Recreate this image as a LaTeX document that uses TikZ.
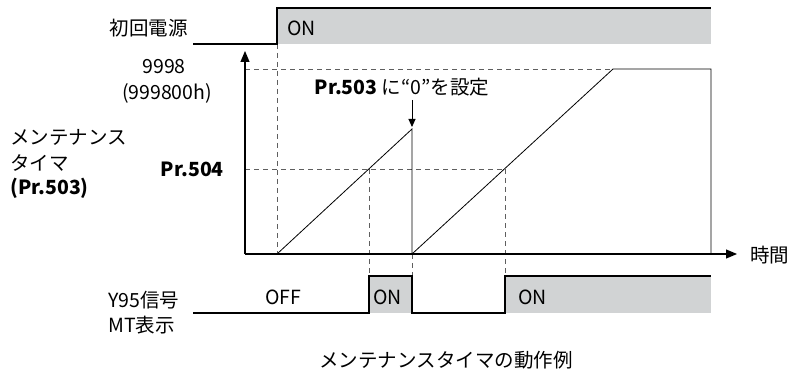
\documentclass[tikz,border=0pt]{standalone}
\usepackage{fontspec}
\setmainfont{Noto Sans CJK JP}
\usetikzlibrary{arrows.meta}
\definecolor{onfill}{RGB}{209,211,212}
\definecolor{dashgray}{RGB}{95,95,95}
\begin{document}
\begin{tikzpicture}[x=1pt,y=-1pt,
  sig/.style={line width=1.1pt, black},
  guide/.style={line width=0.9pt, dashgray, dash pattern=on 5pt off 4pt},
  ramp/.style={line width=0.8pt, black},
  axisarrow/.style={line width=1.1pt, -{Triangle[length=11pt,width=9pt]}},
  lbl/.style={font=\fontsize{19.5}{23}\selectfont, inner sep=0pt},
  bld/.style={font=\fontsize{19.5}{23}\selectfont\bfseries, inner sep=0pt}]
\useasboundingbox (0,0) rectangle (792,374);
% coordinates
\coordinate (O) at (245,254);
\coordinate (ytip) at (245,51);
\coordinate (xtip) at (737,254);
\coordinate (pw0) at (193,44);
\coordinate (pw1) at (277,44);
\coordinate (pw2) at (277,8);
\coordinate (pw3) at (711,8);
\coordinate (s0) at (193,313);
\coordinate (s1) at (369,313);
\coordinate (s2) at (369,276);
\coordinate (s3) at (412,276);
\coordinate (s4) at (412,313);
\coordinate (s5) at (505,313);
\coordinate (s6) at (505,276);
\coordinate (s7) at (711,276);
\coordinate (maxL) at (245,69);
\coordinate (maxA) at (613,69);
\coordinate (maxR) at (711,69);
\coordinate (maxB) at (711,254);
\coordinate (thL) at (245,169);
\coordinate (th1) at (369,169);
\coordinate (th2) at (505,169);
\coordinate (r0) at (277,254);
\coordinate (peak) at (412,129);
\coordinate (reset) at (412,254);
\coordinate (arrS) at (412,100);
\coordinate (arrE) at (412,127);
% fills
\fill[onfill] (pw2) rectangle (711,44);
\fill[onfill] (s2) rectangle (s4);
\fill[onfill] (s6) rectangle (711,313);
% guides
\draw[guide] (maxL) -- (maxA);
\draw[guide] (thL) -- (th2);
\draw[guide] (pw1) -- (r0);
\draw[guide] (th1) -- (s2);
\draw[guide] (reset) -- (s3);
\draw[guide] (th2) -- (s6);
% signals
\draw[sig] (pw0) -- (pw1) -- (pw2) -- (pw3);
\draw[sig] (s0) -- (s1) -- (s2) -- (s3) -- (s4) -- (s5) -- (s6) -- (s7);
% axes
\draw[axisarrow] (O) -- (ytip);
\draw[axisarrow] (O) -- (xtip);
% ramps
\draw[ramp] (r0) -- (peak) -- (reset) -- (maxA) -- (maxR) -- (maxB);
\draw[line width=0.9pt, -{Triangle[length=8pt,width=7pt]}] (arrS) -- (arrE);
% texts
\node[lbl, anchor=east] (tpw) at (188,28) {初回電源};
\node[lbl, anchor=west] (ton1) at (287,28) {ON};
\node[lbl] (tmax) at (164,67) {9998};
\node[lbl] (tmaxh) at (167,93) {(999800h)};
\node[lbl] (tset) at (402,87) {\textbf{Pr.503} に“0”を設定};
\node[lbl, anchor=west] (tmt1) at (10,137) {メンテナンス};
\node[lbl, anchor=west] (tmt2) at (10,163) {タイマ};
\node[bld, anchor=west] (tmt3) at (10,188) {(Pr.503)};
\node[bld, anchor=east] (t504) at (224,169) {Pr.504};
\node[lbl, anchor=west] (ttime) at (750,255) {時間};
\node[lbl] (toff) at (283,297) {OFF};
\node[lbl, anchor=west] (ton2) at (373,297) {ON};
\node[lbl, anchor=west] (ton3) at (518,297) {ON};
\node[lbl, anchor=west] (ty95) at (108,300) {Y95信号};
\node[lbl, anchor=west] (tmtd) at (108,325) {MT表示};
\node[lbl] (tcap) at (446,360) {メンテナンスタイマの動作例};
\end{tikzpicture}
\end{document}
